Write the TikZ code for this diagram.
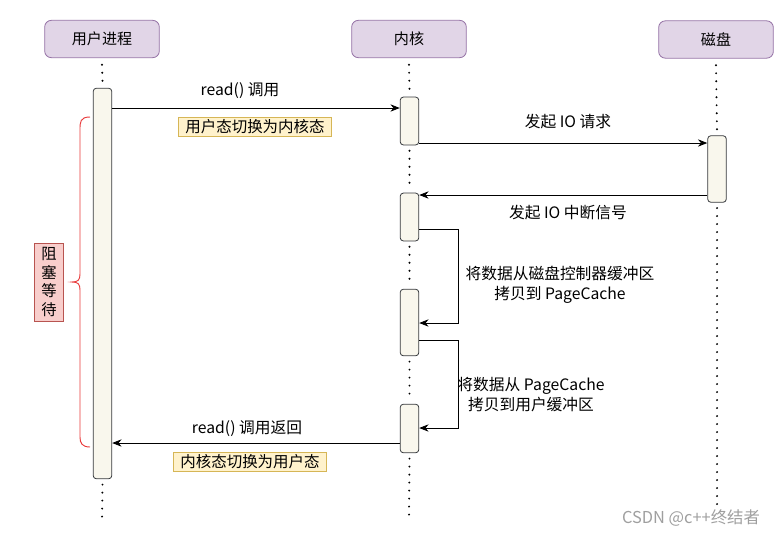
\documentclass[tikz,border=0pt]{standalone}
\usepackage{fontspec}
\setmainfont{Noto Sans CJK SC}
\usetikzlibrary{arrows.meta}
\definecolor{hdrfill}{HTML}{E1D5E7}
\definecolor{hdrdraw}{HTML}{9673A6}
\definecolor{barfill}{HTML}{F9F7ED}
\definecolor{bardraw}{HTML}{36393D}
\definecolor{yfill}{HTML}{FFF2CC}
\definecolor{ydraw}{HTML}{D6B656}
\definecolor{pfill}{HTML}{F8CECC}
\definecolor{pdraw}{HTML}{B85450}
\definecolor{bracered}{HTML}{E8393A}
\tikzset{
  hdr/.style={draw=hdrdraw, fill=hdrfill, rounded corners=5pt, minimum width=86pt, minimum height=28pt, inner sep=0pt, font=\fontsize{11.3}{13}\selectfont, line width=0.6pt},
  actbar/.style={draw=bardraw, fill=barfill, rounded corners=2.5pt, minimum width=14pt, inner sep=0pt, line width=0.6pt},
  life/.style={line width=1.6pt, dash pattern=on 0pt off 6pt, line cap=round},
  msg/.style={line width=0.6pt, -{Stealth[length=7pt,width=5.5pt]}},
  lbl/.style={font=\fontsize{11.8}{15}\selectfont, inner sep=1pt, align=center},
  ybox/.style={draw=ydraw, fill=yfill, font=\fontsize{11.6}{13}\selectfont, inner sep=0pt, minimum height=14.5pt, text width=115pt, align=center, line width=0.6pt},
}
\begin{document}
\begin{tikzpicture}[x=0.75pt,y=-0.75pt]
\useasboundingbox (0,0) rectangle (781,536);
% headers
\node[hdr] (hU) at (102,39) {用户进程};
\node[hdr] (hK) at (409,39) {内核};
\node[hdr] (hD) at (716,39.5) {磁盘};
% activation bars
\node[actbar, minimum height=293pt] (bU) at (102.5,283.5) {};
\node[actbar, minimum height=36pt] (bK1) at (409.5,121) {};
\node[actbar, minimum height=36pt] (bK2) at (409.5,217) {};
\node[actbar, minimum height=50pt] (bK3) at (409.5,322.5) {};
\node[actbar, minimum height=36.5pt] (bK4) at (409.5,428.5) {};
\node[actbar, minimum height=50pt] (bD) at (717,169) {};
% lifeline ends
\coordinate (eU) at (102,520);
\coordinate (eK) at (409,515);
\coordinate (eD) at (717,510);
% lifelines
\draw[life] ([yshift=-5pt]hU.south) -- ([yshift=4pt]bU.north);
\draw[life] ([yshift=-4pt]bU.south) -- (eU);
\draw[life] ([yshift=-5pt]hK.south) -- ([yshift=4pt]bK1.north);
\draw[life] ([yshift=-4pt]bK1.south) -- ([yshift=4pt]bK2.north);
\draw[life] ([yshift=-4pt]bK2.south) -- ([yshift=4pt]bK3.north);
\draw[life] ([yshift=-4pt]bK3.south) -- ([yshift=4pt]bK4.north);
\draw[life] ([yshift=-4pt]bK4.south) -- (eK);
\draw[life] ([yshift=-5pt]hD.south) -- ([yshift=4pt]bD.north);
\draw[life] ([yshift=-4pt]bD.south) -- (eD);
% message y-levels
\coordinate (y1) at (0,108);
\coordinate (y2) at (0,143);
\coordinate (y3) at (0,195);
\coordinate (y4) at (0,229);
\coordinate (y5) at (0,323);
\coordinate (y6) at (0,340);
\coordinate (y7) at (0,428);
\coordinate (y8) at (0,443);
\coordinate (xl) at (458,0);
% messages
\draw[msg] (bU.east |- y1) -- (bK1.west |- y1);
\node[lbl] (t1) at (240,91) {read() 调用};
\node[ybox] (s1) at (255,127) {用户态切换为内核态};
\draw[msg] (bK1.east |- y2) -- (bD.west |- y2);
\node[lbl] (t2) at (568,122) {发起 IO 请求};
\draw[msg] (bD.west |- y3) -- (bK2.east |- y3);
\node[lbl] (t3) at (568,213) {发起 IO 中断信号};
\draw[msg] (bK2.east |- y4) -- (xl |- y4) -- (xl |- y5) -- (bK3.east |- y5);
\node[lbl] (t4) at (560,285) {将数据从磁盘控制器缓冲区\\拷贝到 PageCache};
\draw[msg] (bK3.east |- y6) -- (xl |- y6) -- (xl |- y7) -- (bK4.east |- y7);
\node[lbl] (t5) at (531,395) {将数据从 PageCache\\拷贝到用户缓冲区};
\draw[msg] (bK4.west |- y8) -- (bU.east |- y8);
\node[lbl] (t6) at (247,429) {read() 调用返回};
\node[ybox] (s2) at (250,462) {内核态切换为用户态};
% brace
\coordinate (bt) at (90,117);
\coordinate (bb) at (90,447);
\coordinate (tip) at (72,282);
\draw[bracered, line width=0.7pt] (bt) .. controls (80,117) and (80,122) .. (80,130) -- (80,274) .. controls (80,280) and (78,282) .. (tip) .. controls (78,282) and (80,284) .. (80,290) -- (80,437) .. controls (80,443) and (82,447) .. (bb);
% blocking box
\node[draw=pdraw, fill=pfill, minimum width=21.5pt, minimum height=58.5pt, inner sep=0pt, align=center, font=\fontsize{11.5}{14}\selectfont, line width=0.6pt] (wait) at (49,282) {阻\\塞\\等\\待};
% watermark
\node[text=gray!75, font=\fontsize{12.3}{14}\selectfont, inner sep=0pt] (wm) at (691,518) {CSDN @c++终结者};
\end{tikzpicture}
\end{document}
